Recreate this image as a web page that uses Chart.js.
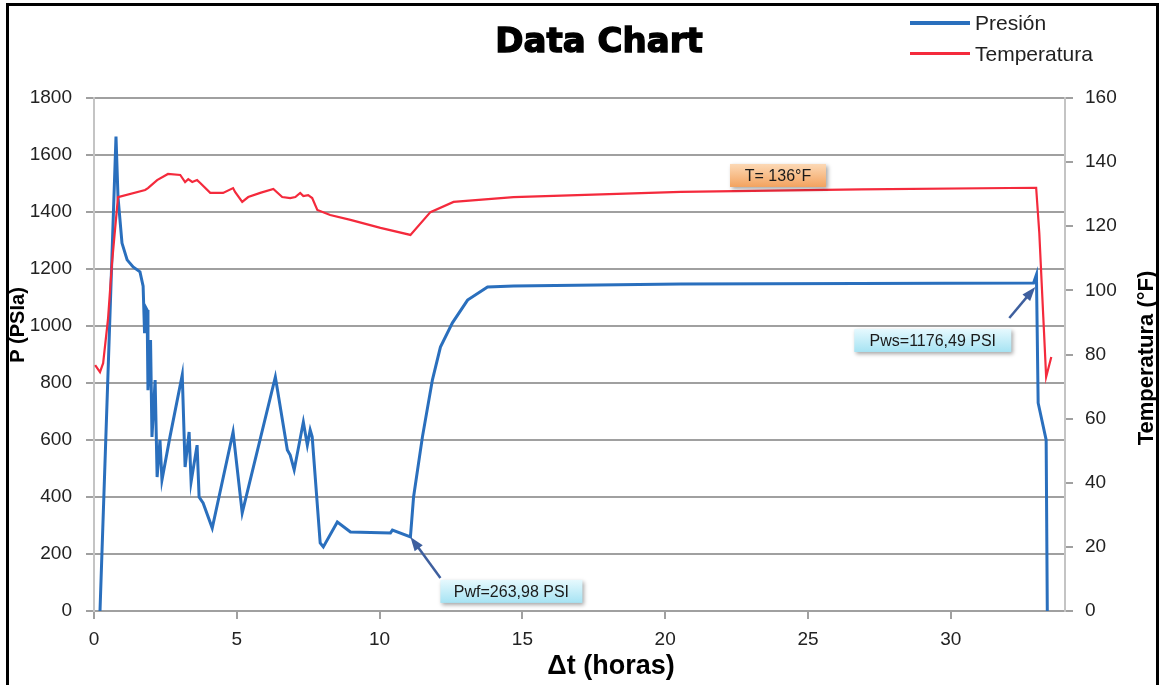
<!DOCTYPE html>
<html>
<head>
<meta charset="utf-8">
<script src="https://cdn.jsdelivr.net/npm/chart.js@4.4.1/dist/chart.umd.min.js"></script>
<style>
  html, body { margin:0; padding:0; background:#fff; }
  #wrap { position:relative; width:1162px; height:685px; overflow:hidden; font-family:"Liberation Sans", Arial, sans-serif; }
  #chart { position:absolute; left:0; top:0; }
  #frame { position:absolute; left:6px; top:3px; width:1153px; height:720px; border:3px solid #000; border-bottom:none; box-sizing:border-box; pointer-events:none; }
  #title { position:absolute; left:0; top:23px; width:1198px; text-align:center; font:bold 34px/34px "DejaVu Sans", sans-serif; color:#000; -webkit-text-stroke:1.4px #000; }
  #legend { position:absolute; left:910px; top:7px; }
  .lg-item { display:flex; align-items:center; height:31px; font-size:21px; color:#222; }
  .lg-line { width:60px; margin-right:5px; }
</style>
</head>
<body>
<div id="wrap">
  <canvas id="chart" width="1162" height="685"></canvas>
  <div id="title">Data Chart</div>
  <div id="legend"></div>
  <div id="frame"></div>
</div>
<script>
/* ── data ── */
const timeP    = [0.21, 0.77, 0.84, 0.98, 1.16, 1.37, 1.61, 1.72, 1.77, 1.80, 1.86, 1.89, 1.98, 2.03, 2.14, 2.21, 2.31, 2.38, 2.66, 3.09,
                  3.19, 3.33, 3.40, 3.61, 3.68, 3.82, 4.14, 4.87, 5.19, 6.35, 6.77, 6.87, 7.01, 7.33, 7.47, 7.57, 7.64, 7.92, 8.03, 8.52,
                  8.98, 10.38, 10.45, 11.08, 11.19, 11.50, 11.85, 12.13, 12.55, 13.08, 13.78, 14.69, 20.55, 32.90, 33.00, 33.06, 33.34, 33.38];
const pressure = [0, 1665, 1453, 1291, 1232, 1207, 1190, 1140, 975, 1067, 1056, 775, 951, 611, 810, 470, 600, 460, 611, 828,
                  505, 628, 453, 582, 400, 379, 291, 628, 344, 821, 565, 547, 495, 663, 582, 635, 611, 239, 225, 312,
                  277, 274, 284, 260, 400, 611, 811, 926, 1011, 1091, 1137, 1140, 1147, 1151, 1180, 730, 600, 0];

const timeT       = [0.04, 0.21, 0.32, 0.49, 0.63, 0.84, 1.79, 1.89, 2.21, 2.59, 3.02, 3.19, 3.30, 3.44, 3.61, 3.72, 4.07, 4.52, 4.87, 4.94,
                     5.19, 5.40, 5.82, 6.28, 6.59, 6.87, 7.05, 7.22, 7.33, 7.50, 7.64, 7.82, 8.27, 8.98, 10.03, 11.08, 11.78, 12.59, 14.69, 20.55,
                     26.86, 32.99, 33.10, 33.24, 33.34, 33.52];
const temperature = [76.7, 74.5, 77.3, 91.0, 108.5, 129.1, 131.3, 131.9, 134.4, 136.3, 136.0, 133.8, 134.7, 133.8, 134.4, 133.5, 130.4, 130.4, 131.9, 130.7,
                     127.6, 129.1, 130.4, 131.6, 129.1, 128.8, 129.1, 130.4, 129.4, 129.7, 128.8, 125.1, 123.5, 122.0, 119.5, 117.3, 124.4, 127.6, 129.1, 130.7,
                     131.5, 132.0, 117.9, 91.7, 73.0, 79.2];

const xTicks  = [0, 5, 10, 15, 20, 25, 30];
const seriesNames = ['Presión', 'Temperatura'];

/* callout labels: anchor in data units, box offset in px */
const callouts = [
    { text:'Pwf=263,98 PSI',   axis:'y',  x:11.08, y:260,  bx:30,   by:43, w:142, h:23, tail:[30, 41],  fill:['#e6f9fe','#a6e3f3'] },
    { text:'Pws=1176,49 PSI',  axis:'y',  x:32.96, y:1137, bx:-181, by:42, w:157, h:23, tail:[-26, 31], fill:['#e6f9fe','#a6e3f3'] },
    { text:'T= 136°F',         axis:'y1', x:23.95, y:136,  bx:-48,  by:-11, w:96, h:23, tail:null,      fill:['#fcd9b6','#f3a35f'] }
];

const BLUE = '#2a6fbd';
const RED  = '#f42a3c';
const GRID = '#a0a0a0';
const FONT = '"Liberation Sans", Arial, sans-serif';

const toPts = (xs, ys) => xs.map((x, i) => ({ x, y: ys[i] }));

function vText(ctx, text, x, y, font, rot) {
    ctx.save();
    ctx.translate(x, y);
    ctx.rotate(rot);
    ctx.font = font;
    ctx.fillStyle = '#000';
    ctx.textAlign = 'center';
    ctx.textBaseline = 'middle';
    ctx.fillText(text, 0, 0);
    ctx.restore();
}

/* ── overlay plugin: axis titles + callouts ── */
const overlays = {
    id: 'overlays',
    afterDraw(chart) {
        const ctx = chart.ctx;
        const xs = chart.scales.x;

        vText(ctx, 'P (PSIa)',         18,   325, `bold 20px ${FONT}`, -Math.PI / 2);
        vText(ctx, 'Temperatura (°F)', 1147, 358, `bold 22px ${FONT}`, -Math.PI / 2);
        vText(ctx, 'Δt (horas)',       611,  667, `bold 27px ${FONT}`, 0);

        callouts.forEach(c => {
            const px = xs.getPixelForValue(c.x);
            const py = chart.scales[c.axis].getPixelForValue(c.y);

            if (c.tail) {
                const tx = px + c.tail[0], ty = py + c.tail[1];
                const ang = Math.atan2(py - ty, px - tx);
                ctx.save();
                ctx.strokeStyle = '#3e5f9e';
                ctx.fillStyle = '#3e5f9e';
                ctx.lineWidth = 2.5;
                ctx.beginPath();
                ctx.moveTo(tx, ty);
                ctx.lineTo(px - 8 * Math.cos(ang), py - 8 * Math.sin(ang));
                ctx.stroke();
                ctx.beginPath();
                ctx.moveTo(px, py);
                ctx.lineTo(px - 14 * Math.cos(ang) + 5 * Math.sin(ang), py - 14 * Math.sin(ang) - 5 * Math.cos(ang));
                ctx.lineTo(px - 14 * Math.cos(ang) - 5 * Math.sin(ang), py - 14 * Math.sin(ang) + 5 * Math.cos(ang));
                ctx.closePath();
                ctx.fill();
                ctx.restore();
            }

            const bx = px + c.bx, by = py + c.by;
            ctx.save();
            ctx.shadowColor = 'rgba(0,0,0,0.35)';
            ctx.shadowBlur = 4;
            ctx.shadowOffsetX = 2;
            ctx.shadowOffsetY = 2;
            const g = ctx.createLinearGradient(0, by, 0, by + c.h);
            g.addColorStop(0, c.fill[0]);
            g.addColorStop(1, c.fill[1]);
            ctx.fillStyle = g;
            ctx.fillRect(bx, by, c.w, c.h);
            ctx.restore();

            ctx.save();
            ctx.font = `16px ${FONT}`;
            ctx.fillStyle = '#1a1a1a';
            ctx.textAlign = 'center';
            ctx.textBaseline = 'middle';
            ctx.fillText(c.text, bx + c.w / 2, by + c.h / 2 + 1);
            ctx.restore();
        });
    }
};

const tickFont = { family: FONT, size: 19 };
const plain = v => String(v);

const chart = new Chart(document.getElementById('chart').getContext('2d'), {
    type: 'line',
    data: {
        datasets: [
            { label: seriesNames[0], data: toPts(timeP, pressure),    borderColor: BLUE, backgroundColor: BLUE, borderWidth: 3,   pointRadius: 0, tension: 0, yAxisID: 'y',  order: 2 },
            { label: seriesNames[1], data: toPts(timeT, temperature), borderColor: RED,  backgroundColor: RED,  borderWidth: 2.2, pointRadius: 0, tension: 0, yAxisID: 'y1', order: 1 }
        ]
    },
    options: {
        responsive: false,
        animation: false,
        layout: { padding: { left: 0, right: 0, top: 98, bottom: 0 } },
        plugins: { legend: { display: false }, title: { display: false }, tooltip: { enabled: false } },
        scales: {
            x: {
                type: 'linear', min: 0, max: 34,
                afterBuildTicks: s => { s.ticks = xTicks.map(v => ({ value: v })); },
                afterFit: s => { s.height = 74; },
                grid: { drawOnChartArea: false, color: GRID, lineWidth: 2, tickLength: 8 },
                border: { color: GRID, width: 2 },
                ticks: { color: '#222', font: tickFont, padding: 9, maxRotation: 0, callback: plain }
            },
            y: {
                position: 'left', min: 0, max: 1800,
                afterFit: s => { s.width = 94; },
                grid: { color: GRID, lineWidth: 2, tickLength: 8 },
                border: { color: '#c4c4c4', width: 2 },
                ticks: { stepSize: 200, color: '#222', font: tickFont, padding: 14, callback: plain }
            },
            y1: {
                position: 'right', min: 0, max: 160,
                afterFit: s => { s.width = 97; },
                grid: { drawOnChartArea: false, color: GRID, lineWidth: 2, tickLength: 8 },
                border: { color: '#c4c4c4', width: 2 },
                ticks: { stepSize: 20, color: '#222', font: tickFont, padding: 12, callback: plain }
            }
        }
    },
    plugins: [overlays]
});

/* ── legend ── */
const legendBox = document.getElementById('legend');
chart.data.datasets.forEach((ds, i) => {
    const row = document.createElement('div');
    row.className = 'lg-item';
    row.innerHTML = `<span class="lg-line" style="height:${i === 0 ? 4 : 3}px;background:${ds.borderColor}"></span><span>${ds.label}</span>`;
    legendBox.appendChild(row);
});
</script>
</body>
</html>
